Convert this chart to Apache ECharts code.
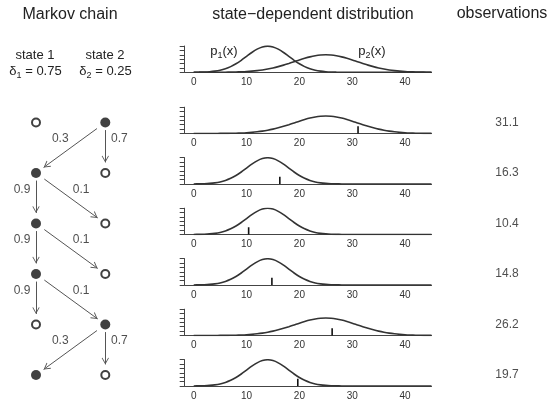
<!DOCTYPE html>
<html><head><meta charset="utf-8">
<script src="https://cdn.jsdelivr.net/npm/echarts@6/dist/echarts.min.js"></script>
<style>html,body{margin:0;padding:0;background:#fff}#c{width:554px;height:402px}</style>
</head><body><div id="c"></div>
<script>
// ---- data ----
const xs = [0,1,2,3,4,5,6,7,8,9,10,11,12,13,14,15,16,17,18,19,20,21,22,23,24,25,26,27,28,29,30,31,32,33,34,35,36,37,38,39,40,41,42,43,44,45];
const p1 = [0.0002,0.0005,0.0011,0.0023,0.0044,0.0079,0.0135,0.0216,0.0324,0.0456,0.0605,0.0753,0.0880,0.0966,0.0997,0.0966,0.0880,0.0753,0.0605,0.0456,0.0324,0.0216,0.0135,0.0079,0.0044,0.0023,0.0011,0.0005,0.0002,0.0001,0,0,0,0,0,0,0,0,0,0,0,0,0,0,0,0];
const p2 = [0.0000,0.0000,0.0000,0.0001,0.0001,0.0003,0.0004,0.0007,0.0012,0.0019,0.0029,0.0044,0.0064,0.0090,0.0124,0.0166,0.0216,0.0273,0.0337,0.0403,0.0470,0.0532,0.0587,0.0629,0.0656,0.0665,0.0656,0.0629,0.0587,0.0532,0.0470,0.0403,0.0337,0.0273,0.0216,0.0166,0.0124,0.0090,0.0064,0.0044,0.0029,0.0019,0.0012,0.0007,0.0004,0.0003];
const states = [2,1,1,1,2,1];
const observations = [31.1,16.3,10.4,14.8,26.2,19.7];
const delta = [0.75,0.25];
const gamma = [[0.9,0.1],[0.3,0.7]];
const xTicks = [0,10,20,30,40];
const yTicks = [0,0.0167,0.0333,0.05,0.0667,0.0833,0.1];

// ---- layout ----
const FONT = 'Liberation Sans, Arial, sans-serif';
const TXT = '#222';
const baselines = [72.3,133.5,184,234.5,285,335.5,386];
const PH = 26.3;
const rowTop = 97.25, rowH = 303;

const grid = [], xAxis = [], yAxis = [], series = [];
// chain grid (0)
grid.push({left:1.35, width:138.6, top:rowTop, height:rowH});
xAxis.push({gridIndex:0, type:'value', min:0.5, max:2.5, show:false});
yAxis.push({gridIndex:0, type:'value', min:0.5, max:6.5, inverse:true, show:false});
// observations grid (1)
grid.push({left:480, width:54, top:rowTop, height:rowH});
xAxis.push({gridIndex:1, type:'value', min:-1, max:1, show:false});
yAxis.push({gridIndex:1, type:'value', min:0.5, max:6.5, inverse:true, show:false});

// panels
baselines.forEach((b, k) => {
  const gi = k + 2;
  grid.push({left:184.7, right:122.5, top:b - PH, height:PH});
  xAxis.push({gridIndex:gi, type:'value', min:-1.7, max:45,
    axisLine:{show:true, onZero:false, lineStyle:{color:'#444', width:1}},
    axisTick:{show:false}, splitLine:{show:false},
    axisLabel:{customValues:xTicks, fontSize:10, color:'#333', margin:5, fontFamily:FONT}});
  yAxis.push({gridIndex:gi, type:'value', min:0, max:0.1,
    axisLine:{show:true, onZero:false, lineStyle:{color:'#444', width:1}},
    axisTick:{show:true, inside:false, length:5, customValues:yTicks, lineStyle:{color:'#444', width:1}},
    axisLabel:{show:false}, splitLine:{show:false}});
  const curves = k === 0 ? [p1, p2] : [states[k-1] === 1 ? p1 : p2];
  curves.forEach(c => series.push({type:'line', xAxisIndex:gi, yAxisIndex:gi,
    data: xs.map((x,i)=>[x, c[i]]), smooth:0.3, showSymbol:false, silent:true,
    lineStyle:{color:'#333', width:1.6}}));
  if (k > 0) {
    const o = observations[k-1];
    series.push({type:'line', xAxisIndex:gi, yAxisIndex:gi, data:[[o,0],[o,0.028]],
      showSymbol:false, silent:true, lineStyle:{color:'#111', width:1.6}});
  }
});

// chain nodes
const filled = states.map((s,t)=>[s, t+1]);
const open = states.map((s,t)=>[3-s, t+1]);
series.push({type:'scatter', xAxisIndex:0, yAxisIndex:0, data:filled, symbol:'circle', symbolSize:10,
  itemStyle:{color:'#111'}, silent:true});
series.push({type:'scatter', xAxisIndex:0, yAxisIndex:0, data:open, symbol:'circle', symbolSize:8,
  itemStyle:{color:'#fff', borderColor:'#111', borderWidth:2}, silent:true});

// chain edges
const ARROW = 'path://M0,0 L0.01,0 L0,0.01 Z M20,20 L19.99,20 L20,19.99 Z M10,10 L15.2,19 L14.1,19.6 L10,12.5 L5.9,19.6 L4.8,19 Z';
const edges = [], edgeLabels = [];
for (let t = 0; t < states.length - 1; t++) {
  const s = states[t];
  [1,2].forEach(j => {
    const from = [s, t+1], to = [j, t+2];
    const vertical = (s === j);
    const fs = vertical ? 0.15 : 0.12, fe = vertical ? 0.79 : 0.89;
    const P = f => [from[0] + f*(to[0]-from[0]), from[1] + f*(to[1]-from[1])];
    edges.push({coords:[P(fs), P(fe)]});
    const lx = vertical ? s : s + 0.65*(j - s);
    const off = vertical ? (s === 1 ? -14 : 14) : 0;
    edgeLabels.push({value:[lx, t+1.33, gamma[s-1][j-1]], label:{offset:[off,0]}});
  });
}
series.push({type:'lines', coordinateSystem:'cartesian2d', xAxisIndex:0, yAxisIndex:0, data:edges,
  symbol:['none', ARROW], symbolSize:14, lineStyle:{color:'#555', width:1, opacity:1, curveness:0}, silent:true});
series.push({type:'scatter', xAxisIndex:0, yAxisIndex:0, data:edgeLabels, symbolSize:0, silent:true,
  label:{show:true, position:'inside', formatter:p=>String(p.value[2]), fontSize:12, color:TXT, fontFamily:FONT}});

// observations
series.push({type:'scatter', xAxisIndex:1, yAxisIndex:1, data:observations.map((v,i)=>[0,i+1,v]), symbolSize:0, silent:true,
  label:{show:true, position:'inside', formatter:p=>p.value[2].toFixed(1), fontSize:12, color:TXT, fontFamily:FONT}});

const sub = {
  a:{fontSize:13, fontFamily:FONT, color:TXT, lineHeight:18},
  s:{fontSize:9, fontFamily:FONT, color:TXT, lineHeight:18, verticalAlign:'bottom'}
};
function txt(x, y, text, size, rich) {
  return {type:'text', x:x, y:y, silent:true,
    style:{text:text, fontSize:size, fontFamily:FONT, fill:TXT, align:'center', verticalAlign:'middle', rich:rich}};
}
const graphic = [
  txt(70, 15, 'Markov chain', 16),
  txt(313, 15, 'state\u2212dependent distribution', 16),
  txt(502, 14, 'observations', 16),
  txt(35, 55, 'state 1', 13),
  txt(105, 55, 'state 2', 13),
  txt(35.5, 71, '{a|\u03b4}{s|1}{a| = ' + delta[0].toFixed(2) + '}', 13, sub),
  txt(105.5, 71, '{a|\u03b4}{s|2}{a| = ' + delta[1].toFixed(2) + '}', 13, sub),
  txt(224, 51, '{a|p}{s|1}{a|(x)}', 13, sub),
  txt(372, 51, '{a|p}{s|2}{a|(x)}', 13, sub)
];

const chart = echarts.init(document.getElementById('c'), null, {renderer:'canvas'});
chart.setOption({animation:false, backgroundColor:'#fff', grid, xAxis, yAxis, series, graphic});
</script>
</body></html>
